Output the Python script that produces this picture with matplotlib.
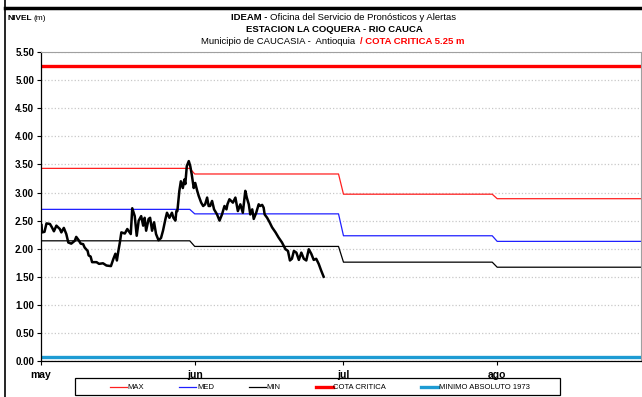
import numpy as np
import matplotlib
matplotlib.use("Agg")
import matplotlib.pyplot as plt
from matplotlib import font_manager
from matplotlib.lines import Line2D
from matplotlib.patches import Rectangle

# fuente angosta si existe
nombres = {f.name for f in font_manager.fontManager.ttflist}
fuente = "Liberation Sans Narrow" if "Liberation Sans Narrow" in nombres else "Liberation Sans"
plt.rcParams["font.family"] = [fuente, "DejaVu Sans"]


#%%
# Niveles de referencia mensuales (may, jun, jul, ago)
meses = ["may", "jun", "jul", "ago"]
dias_mes = [31, 30, 31, 31]
nivel_max = [3.43, 3.33, 2.97, 2.89]
nivel_med = [2.70, 2.62, 2.23, 2.13]
nivel_min = [2.14, 2.04, 1.76, 1.67]
cota_critica = 5.25
minimo_1973 = 0.07

# Lecturas del nivel (dias desde el 1 de mayo, metros)
dia_lectura = [0.1, 0.2, 0.7, 1.1, 1.8, 2.2, 2.6, 3.1, 3.8, 4.1,
               4.6, 5.1, 5.5, 6.1, 6.8, 7.1, 7.6, 8.0, 8.5, 8.8,
               9.4, 9.6, 10.0, 10.3, 11.2, 11.7, 12.5, 13.2, 14.1, 14.6,
               15.0, 15.3, 15.6, 15.9, 16.2, 16.9, 17.4, 18.1, 18.4, 18.9,
               19.3, 19.7, 20.2, 20.6, 20.9, 21.2, 21.7, 22.0, 22.4, 22.8,
               23.2, 23.7, 24.2, 24.6, 25.1, 25.4, 25.9, 26.4, 26.7, 27.1,
               27.3, 27.5, 27.9, 28.2, 28.6, 28.9, 29.1, 29.4, 29.8, 30.1,
               30.4, 30.8, 31.1, 31.5, 31.8, 32.3, 32.7, 33.1, 33.5, 33.8,
               34.1, 34.5, 34.9, 35.5, 36.0, 36.5, 37.0, 37.4, 37.6, 38.0,
               38.7, 39.2, 39.7, 40.2, 40.7, 41.2, 41.5, 41.9, 42.2, 42.6,
               42.9, 43.4, 43.9, 44.2, 44.6, 44.9, 45.1, 45.6, 46.1, 46.6,
               47.3, 47.9, 48.6, 49.3, 49.8, 50.2, 50.6, 51.0, 51.5, 52.0,
               52.5, 53.0, 53.5, 54.0, 54.5, 55.0, 55.5, 56.0, 56.5, 57.0]
nivel = [2.42, 2.29, 2.30, 2.45, 2.44, 2.38, 2.31, 2.41, 2.35, 2.29,
         2.37, 2.26, 2.11, 2.09, 2.14, 2.21, 2.15, 2.09, 2.08, 2.02,
         1.96, 1.88, 1.86, 1.76, 1.76, 1.73, 1.74, 1.70, 1.69, 1.82,
         1.91, 1.79, 1.96, 2.11, 2.29, 2.27, 2.35, 2.26, 2.72, 2.58,
         2.23, 2.50, 2.58, 2.41, 2.55, 2.32, 2.53, 2.55, 2.32, 2.47,
         2.26, 2.15, 2.19, 2.32, 2.53, 2.64, 2.55, 2.64, 2.55, 2.50,
         2.67, 2.67, 3.03, 3.20, 3.08, 3.23, 3.15, 3.47, 3.56, 3.47,
         3.32, 3.08, 3.17, 3.03, 2.94, 2.82, 2.76, 2.79, 2.91, 2.76,
         2.76, 2.85, 2.70, 2.61, 2.50, 2.61, 2.76, 2.70, 2.79, 2.88,
         2.82, 2.91, 2.67, 2.79, 2.64, 3.03, 2.91, 2.79, 2.61, 2.70,
         2.53, 2.64, 2.79, 2.76, 2.78, 2.73, 2.61, 2.55, 2.47, 2.38,
         2.29, 2.20, 2.11, 1.99, 1.96, 1.79, 1.82, 1.96, 1.93, 1.80,
         1.93, 1.82, 1.79, 1.99, 1.91, 1.80, 1.82, 1.73, 1.61, 1.50]


#%%
# series diarias de referencia
dias = np.arange(sum(dias_mes))
serie_max = np.repeat(nivel_max, dias_mes)
serie_med = np.repeat(nivel_med, dias_mes)
serie_min = np.repeat(nivel_min, dias_mes)
inicio_mes = np.concatenate([[0], np.cumsum(dias_mes)[:-1]])

fig = plt.figure(figsize=(6.42, 3.97), dpi=100)
ax = fig.add_axes([0.0639, 0.0907, 0.9345, 0.778])

ax.plot(dias, serie_max, color="#ff2020", linewidth=0.9, label="MAX")
ax.plot(dias, serie_med, color="#2020ff", linewidth=0.9, label="MED")
ax.plot(dias, serie_min, color="black", linewidth=0.9, label="MIN")
ax.axhline(cota_critica, color="#ff0000", linewidth=2.4, label="COTA CRITICA")
ax.axhline(minimo_1973, color="#1d9bd3", linewidth=2.4, label="MINIMO ABSOLUTO 1973")
ax.plot(dia_lectura, nivel, color="black", linewidth=1.8)

ax.set_xlim(0, 121)
ax.set_ylim(0, 5.5)
ax.set_yticks(np.arange(0, 5.51, 0.5))
ax.set_yticklabels(["%.2f" % v for v in np.arange(0, 5.51, 0.5)],
                   fontweight="bold", fontsize=7)
ax.set_xticks(inicio_mes)
ax.set_xticklabels(meses, fontweight="bold", fontsize=7.5)
ax.tick_params(axis="y", length=3, width=0.8, pad=2)
ax.tick_params(axis="x", length=3, width=0.8, pad=3.5)
ax.grid(axis="y", color="#c8c8c8", linestyle=":", linewidth=0.9)
ax.set_axisbelow(True)

for lado in ["top", "right"]:
    ax.spines[lado].set_color("#a0a0a0")
for lado in ["left", "bottom"]:
    ax.spines[lado].set_color("black")
    ax.spines[lado].set_linewidth(0.9)

# titulos
fs_titulo = 6.8
fig.text(267/642, 1-17/397, "IDEAM -", ha="right", va="center",
         fontsize=fs_titulo, fontweight="bold")
fig.text(270/642, 1-17/397, "Oficina del Servicio de Pronósticos y Alertas",
         ha="left", va="center", fontsize=fs_titulo)
fig.text(334/642, 1-29/397, "ESTACION LA COQUERA - RIO CAUCA",
         ha="center", va="center", fontsize=fs_titulo, fontweight="bold")
fig.text(355/642, 1-41/397, "Municipio de CAUCASIA -  Antioquia",
         ha="right", va="center", fontsize=fs_titulo)
fig.text(360/642, 1-41/397, "/ COTA CRITICA 5.25 m", ha="left", va="center",
         fontsize=fs_titulo, fontweight="bold", color="#ff0000")
fig.text(8/642, 1-18/397, "NIVEL", ha="left", va="center",
         fontsize=6, fontweight="bold")
fig.text(34/642, 1-18/397, "(m)", ha="left", va="center", fontsize=6)

# marco exterior
fig.add_artist(Line2D([5/642, 1], [1-8/397, 1-8/397], color="black", linewidth=2.5))
fig.add_artist(Line2D([5/642, 5/642], [0, 1], color="black", linewidth=1.2))

leg = fig.legend(loc="lower center", bbox_to_anchor=(320/642, 3/397), ncol=5,
                 fontsize=5.5, frameon=False,
                 handlelength=2.2, handletextpad=0.1, columnspacing=4.6,
                 borderpad=0.35, borderaxespad=0)
fig.add_artist(Rectangle((75/642, 2/397), 485/642, 17/397, transform=fig.transFigure,
                         facecolor="none", edgecolor="black", linewidth=0.9))

fig.savefig("out.png", dpi=100)
